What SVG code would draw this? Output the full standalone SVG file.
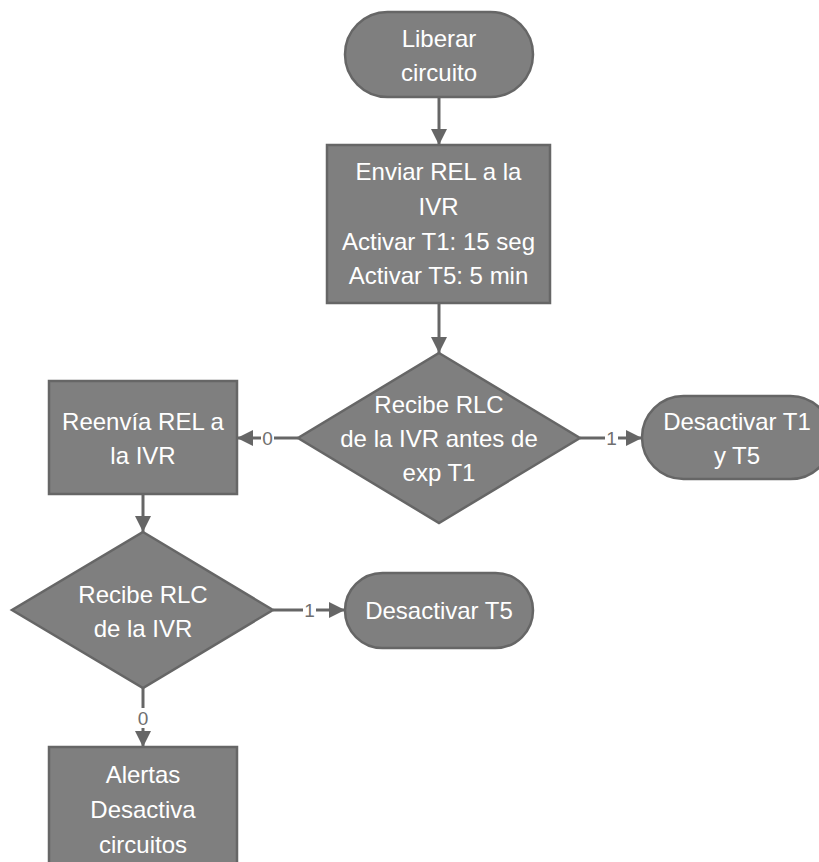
<svg xmlns="http://www.w3.org/2000/svg" width="819" height="862" viewBox="0 0 819 862">
  <defs>
    <marker id="arrow" markerUnits="userSpaceOnUse" markerWidth="17" markerHeight="16" refX="16" refY="8" orient="auto">
      <path d="M0,0 L16,8 L0,16 z" fill="#666666"/>
    </marker>
  </defs>
  <style>
    .shape { fill: #7f7f7f; stroke: #666666; stroke-width: 2.5; }
    .t { fill: #ffffff; font-family: "Liberation Sans", Arial, sans-serif; font-size: 24px; text-anchor: middle; }
    .conn { stroke: #666666; stroke-width: 3; fill: none; marker-end: url(#arrow); }
    .lblbg { fill: #ffffff; }
    .lbl { fill: #6f6f6f; font-family: "Liberation Sans", Arial, sans-serif; font-size: 19px; text-anchor: middle; }
  </style>
  <rect width="819" height="862" fill="#ffffff"/>

  <g id="connectors">
    <line class="conn" x1="439" y1="97" x2="439" y2="145"/>
    <line class="conn" x1="439" y1="303" x2="439" y2="353"/>
    <line class="conn" x1="298" y1="438" x2="237" y2="438"/>
    <line class="conn" x1="580" y1="438" x2="642" y2="438"/>
    <line class="conn" x1="143" y1="494" x2="143" y2="532"/>
    <line class="conn" x1="273" y1="610" x2="345" y2="610"/>
    <line class="conn" x1="143" y1="688" x2="143" y2="747"/>
    <rect class="lblbg" x="261" y="428" width="13" height="20"/>
    <text class="lbl" x="267.5" y="445">0</text>
    <rect class="lblbg" x="605" y="428" width="13" height="20"/>
    <text class="lbl" x="611.5" y="445">1</text>
    <rect class="lblbg" x="303" y="600" width="13" height="20"/>
    <text class="lbl" x="309.5" y="617">1</text>
    <rect class="lblbg" x="136.5" y="708" width="13" height="20"/>
    <text class="lbl" x="143" y="725">0</text>
  </g>

  <g id="liberar">
    <rect class="shape" x="345" y="12" width="188" height="85" rx="42.5" ry="42.5"/>
    <text class="t" x="439" y="47">Liberar</text>
    <text class="t" x="439" y="81">circuito</text>
  </g>

  <g id="enviar">
    <rect class="shape" x="327" y="145" width="223" height="158"/>
    <text class="t" x="438.5" y="180">Enviar REL a la</text>
    <text class="t" x="438.5" y="215">IVR</text>
    <text class="t" x="438.5" y="250">Activar T1: 15 seg</text>
    <text class="t" x="438.5" y="284">Activar T5: 5 min</text>
  </g>

  <g id="decision1">
    <polygon class="shape" points="439,353 580,438 439,523 298,438"/>
    <text class="t" x="439" y="413">Recibe RLC</text>
    <text class="t" x="439" y="447">de la IVR antes de</text>
    <text class="t" x="439" y="481">exp T1</text>
  </g>

  <g id="reenvia">
    <rect class="shape" x="49" y="381" width="188" height="113"/>
    <text class="t" x="143" y="430">Reenvía REL a</text>
    <text class="t" x="143" y="464">la IVR</text>
  </g>

  <g id="desactivarT1T5">
    <rect class="shape" x="642" y="396" width="190" height="83" rx="41.5" ry="41.5"/>
    <text class="t" x="737" y="430">Desactivar T1</text>
    <text class="t" x="737" y="464">y T5</text>
  </g>

  <g id="decision2">
    <polygon class="shape" points="143,532 273,610 143,688 12,610"/>
    <text class="t" x="143" y="603">Recibe RLC</text>
    <text class="t" x="143" y="637">de la IVR</text>
  </g>

  <g id="desactivarT5">
    <rect class="shape" x="345" y="573" width="188" height="75" rx="37.5" ry="37.5"/>
    <text class="t" x="439" y="619">Desactivar T5</text>
  </g>

  <g id="alertas">
    <rect class="shape" x="49" y="747" width="188" height="125"/>
    <text class="t" x="143" y="783">Alertas</text>
    <text class="t" x="143" y="818">Desactiva</text>
    <text class="t" x="143" y="853">circuitos</text>
  </g>
</svg>
